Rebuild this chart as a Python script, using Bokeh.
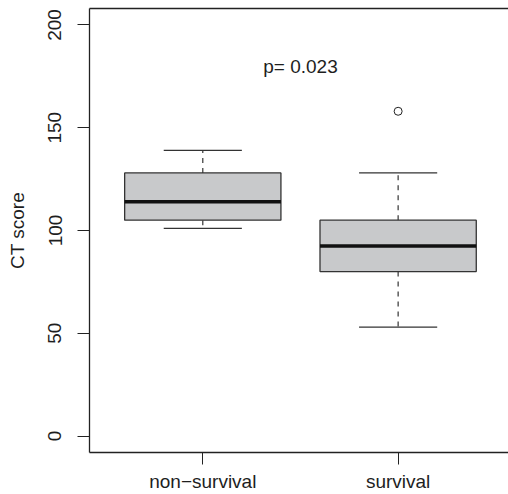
import math
from bokeh.plotting import figure
from bokeh.models import Range1d, FixedTicker, Label, LinearAxis
from bokeh.embed import file_html
from bokeh.resources import INLINE

# ---- data ----
groups = ["non\u2212survival", "survival"]
positions = [1, 2]
lower_whisker = [101, 53]
q1 = [105, 80]
median = [114, 92.5]
q3 = [128, 105]
upper_whisker = [139, 128]
outlier_pos = [2]
outlier_val = [158]
y_ticks = [0, 50, 100, 150, 200]
p_text = "p= 0.023"

FONT = "Liberation Sans"
FS = "19px"
TXT = "#1e1e1e"
LINE = "#222222"
BOX_W = 0.8
CAP_W = 0.4

p = figure(width=508, height=494, output_backend="svg", toolbar_location=None,
           x_range=Range1d(0.42, 2.565), y_range=Range1d(-8, 208),
           min_border_left=89, min_border_right=0, min_border_top=8, min_border_bottom=41)
p.xgrid.visible = False
p.ygrid.visible = False
p.outline_line_color = None
p.background_fill_color = "white"
p.border_fill_color = "white"

# whiskers (dashed)
p.segment(x0=positions, y0=q3, x1=positions, y1=upper_whisker,
          line_color="#333333", line_width=1.2, line_dash="5 5")
p.segment(x0=positions, y0=q1, x1=positions, y1=lower_whisker,
          line_color="#333333", line_width=1.2, line_dash="5 5")
# caps
p.segment(x0=[x - CAP_W / 2 for x in positions], y0=upper_whisker,
          x1=[x + CAP_W / 2 for x in positions], y1=upper_whisker,
          line_color="#333333", line_width=1.3)
p.segment(x0=[x - CAP_W / 2 for x in positions], y0=lower_whisker,
          x1=[x + CAP_W / 2 for x in positions], y1=lower_whisker,
          line_color="#333333", line_width=1.3)
# boxes
p.quad(left=[x - BOX_W / 2 for x in positions], right=[x + BOX_W / 2 for x in positions],
       bottom=q1, top=q3, fill_color="#c8c9cb", line_color="#333333", line_width=1.3)
# medians
p.segment(x0=[x - BOX_W / 2 for x in positions], y0=median,
          x1=[x + BOX_W / 2 for x in positions], y1=median,
          line_color="#111111", line_width=3.5)
# outliers
p.scatter(x=outlier_pos, y=outlier_val, marker="circle", size=8,
          fill_color=None, line_color="#222222", line_width=1)

p.add_layout(Label(x=1.5, y=180, text=p_text, text_align="center", text_baseline="middle",
                   text_font=FONT, text_font_size=FS, text_color=TXT))

# y axis
ya = p.left[0]
ya.ticker = FixedTicker(ticks=y_ticks)
ya.major_label_orientation = "vertical"
ya.major_tick_out = 12
ya.major_tick_in = 0
ya.minor_tick_out = 0
ya.minor_tick_in = 0
ya.major_label_standoff = 16
ya.axis_label = "CT score"
ya.axis_label_standoff = 18
ya.axis_label_text_font = FONT
ya.axis_label_text_font_size = FS
ya.axis_label_text_font_style = "normal"
ya.axis_label_text_color = TXT
ya.major_label_text_font = FONT
ya.major_label_text_font_size = FS
ya.major_label_text_color = TXT
ya.axis_line_color = LINE
ya.major_tick_line_color = LINE
ya.axis_line_width = 1.3

# x axis
xa = p.below[0]
xa.ticker = FixedTicker(ticks=positions)
xa.major_label_overrides = {pos: g for pos, g in zip(positions, groups)}
xa.major_tick_out = 12
xa.major_tick_in = 0
xa.minor_tick_out = 0
xa.minor_tick_in = 0
xa.major_label_standoff = 6
xa.major_label_text_font = FONT
xa.major_label_text_font_size = FS
xa.major_label_text_color = TXT
xa.axis_line_color = LINE
xa.major_tick_line_color = LINE
xa.axis_line_width = 1.3

# top frame line (plain axis line, no ticks or labels)
top = LinearAxis(ticker=FixedTicker(ticks=[]), major_tick_out=0, major_tick_in=0,
                 minor_tick_out=0, minor_tick_in=0, major_label_standoff=0,
                 major_label_text_font_size="0px",
                 axis_line_color=LINE, axis_line_width=1.3)
p.add_layout(top, "above")

open("out.html", "w").write(file_html(p, INLINE))
